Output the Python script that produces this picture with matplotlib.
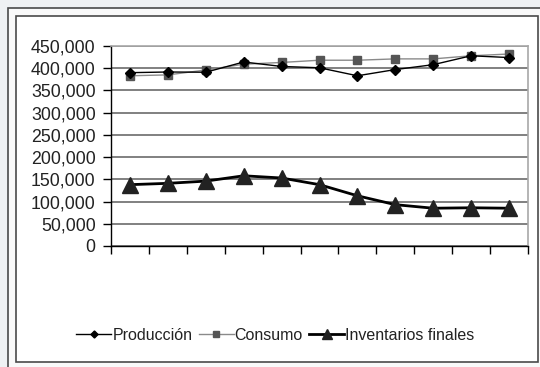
import numpy as np
import matplotlib
matplotlib.use("Agg")
import matplotlib.pyplot as plt
from matplotlib.patches import Rectangle
from matplotlib.ticker import FuncFormatter, MultipleLocator

plt.rcParams['font.family'] = ['Liberation Sans', 'DejaVu Sans']

# valores (11 periodos)
periodos = np.arange(1, 12)
produccion = [390000, 391500, 391000, 414000, 404000, 401000, 383000, 397000, 408000, 428000, 424000]
consumo = [383000, 385000, 396000, 409000, 413000, 418000, 418000, 421000, 421000, 428000, 432000]
inventarios = [138000, 141000, 146000, 158000, 153000, 138000, 113000, 93000, 85000, 86000, 85000]

W, H = 540, 367
fig = plt.figure(figsize=(W / 100, H / 100), dpi=100)
fig.patch.set_facecolor('#eff1f3')

# marcos exteriores
fig.patches.append(Rectangle((8 / W, -0.1), 1.0, 1 - 8 / H + 0.1, transform=fig.transFigure,
                             facecolor='#f9f9f9', edgecolor='#4a4a4a', lw=1.2, zorder=-10))
fig.patches.append(Rectangle((16 / W, 1 - 362 / H), (538 - 16) / W, (362 - 16) / H,
                             transform=fig.transFigure, facecolor='white',
                             edgecolor='#4a4a4a', lw=1.2, zorder=-9))

ax = fig.add_axes([111 / W, 1 - 246 / H, (528 - 111) / W, (246 - 46) / H])
ax.set_facecolor('none')

ax.plot(periodos, produccion, color='black', lw=1.0, marker='D', ms=5.5,
        label='Producción', zorder=3)
ax.plot(periodos, consumo, color='#8a8a8a', lw=1.0, marker='s', ms=6,
        markerfacecolor='#555555', markeredgecolor='#555555', label='Consumo', zorder=2)
ax.plot(periodos, inventarios, color='black', lw=2.0, marker='^', ms=12,
        markerfacecolor='#222222', markeredgecolor='#222222', label='Inventarios finales', zorder=3)

ax.set_xlim(0.5, 11.5)
ax.set_ylim(0, 450000)
ax.yaxis.set_major_locator(MultipleLocator(50000))
ax.yaxis.set_major_formatter(FuncFormatter(lambda v, p: f"{int(v):,}"))
ax.grid(axis='y', color='#808080', lw=1.4)
ax.set_axisbelow(True)

ax.set_xticks(np.arange(0.5, 12, 1))
ax.set_xticklabels([])
ax.tick_params(axis='x', direction='out', length=6, width=1, color='black')
ax.tick_params(axis='y', direction='out', length=6, width=1, color='black',
               labelsize=12.8, labelcolor='#222222', pad=5)

for s in ['top', 'right']:
    ax.spines[s].set_color('#a8a8a8')
    ax.spines[s].set_linewidth(1.2)
for s in ['left', 'bottom']:
    ax.spines[s].set_color('black')
    ax.spines[s].set_linewidth(1.0)

leg = fig.legend(loc='center', bbox_to_anchor=(0.51, 1 - 335 / H), ncol=3, frameon=False,
                 fontsize=11.5, handlelength=2.2, handletextpad=0.05, columnspacing=0.4,
                 markerscale=0.65)
for t in leg.get_texts():
    t.set_color('#222222')

fig.savefig('out.png', dpi=100, facecolor=fig.get_facecolor())
